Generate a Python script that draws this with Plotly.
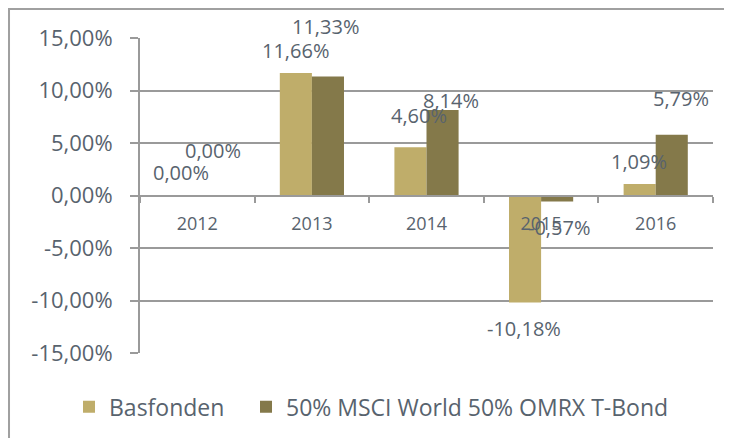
import plotly.graph_objects as go

categories = ["2012", "2013", "2014", "2015", "2016"]
basfonden = [0.00, 11.66, 4.60, -10.18, 1.09]
benchmark = [0.00, 11.33, 8.14, -0.57, 5.79]
series_names = ["Basfonden", "50% MSCI World 50% OMRX T-Bond"]
y_tickvals = [-15, -10, -5, 0, 5, 10, 15]
y_ticktext = ["-15,00%", "-10,00%", "-5,00%", "0,00%", "5,00%", "10,00%", "15,00%"]

# label placement offsets (pixels), relative to the category centre / bar end
bas_dx = [-16, -16, -8, -17, -17]
bas_dy = [23, 23, 32, -26, 23]
ben_dx = [16, 14, 24, 18, 25]
ben_dy = [45, 50, 10, -26, 36]

col_bas = "#BFAD6A"
col_ben = "#84794A"
grid = "#9A9A9A"
txt = "#58636E"
font = "Open Sans"

def fmt(v):
    return ("%.2f" % v).replace(".", ",") + "%"

fig = go.Figure()
fig.add_trace(go.Bar(x=categories, y=basfonden, name=series_names[0], legend="legend",
                     marker=dict(color=col_bas, line=dict(width=0))))
fig.add_trace(go.Bar(x=categories, y=benchmark, name=series_names[1], legend="legend2",
                     marker=dict(color=col_ben, line=dict(width=0))))

ann = []
for vals, dxs, dys in [(basfonden, bas_dx, bas_dy), (benchmark, ben_dx, ben_dy)]:
    for i, (v, dx, dy) in enumerate(zip(vals, dxs, dys)):
        ann.append(dict(x=i, y=v, xref="x", yref="y", text=fmt(v), showarrow=False,
                        xshift=dx, yshift=dy, font=dict(family=font, size=20, color=txt)))

shapes = [dict(type="path", xref="paper", yref="paper",
               path="M -0.2286,-0.35 L -0.2286,1.0921 L 1.06,1.0921",
               line=dict(color="#A0A0A0", width=2))]

leg_common = dict(orientation="h", xanchor="left", y=-0.171, yanchor="middle",
                  font=dict(family=font, size=23, color=txt), bgcolor="rgba(0,0,0,0)")

fig.update_layout(
    width=724, height=430,
    margin=dict(l=132, r=19, t=30, b=85, autoexpand=False),
    paper_bgcolor="white", plot_bgcolor="white",
    barmode="group", bargap=0.44, bargroupgap=0,
    font=dict(family=font, color=txt),
    annotations=ann, shapes=shapes,
    showlegend=True,
    legend=dict(x=-0.1239, **leg_common),
    legend2=dict(x=0.1850, **leg_common),
    xaxis=dict(type="category", categoryorder="array", categoryarray=categories,
               range=[-0.5, 4.5], autorange=False, automargin=False,
               anchor="free", position=0.5, showline=True, linecolor=grid, linewidth=2,
               ticks="outside", tickson="boundaries", ticklen=6, tickcolor=grid, tickwidth=2,
               showgrid=False, zeroline=False, tickfont=dict(family=font, size=18, color=txt),
               ticklabelstandoff=12, tickangle=0),
    yaxis=dict(range=[-15, 15], autorange=False, automargin=False,
               tickvals=y_tickvals, ticktext=y_ticktext,
               showgrid=True, gridcolor=grid, gridwidth=2, zeroline=False,
               showline=True, linecolor=grid, linewidth=2,
               ticks="outside", ticklen=8, tickcolor=grid, tickwidth=2,
               tickfont=dict(family=font, size=22, color=txt), ticklabelstandoff=13),
)

fig.write_html("out.html")
